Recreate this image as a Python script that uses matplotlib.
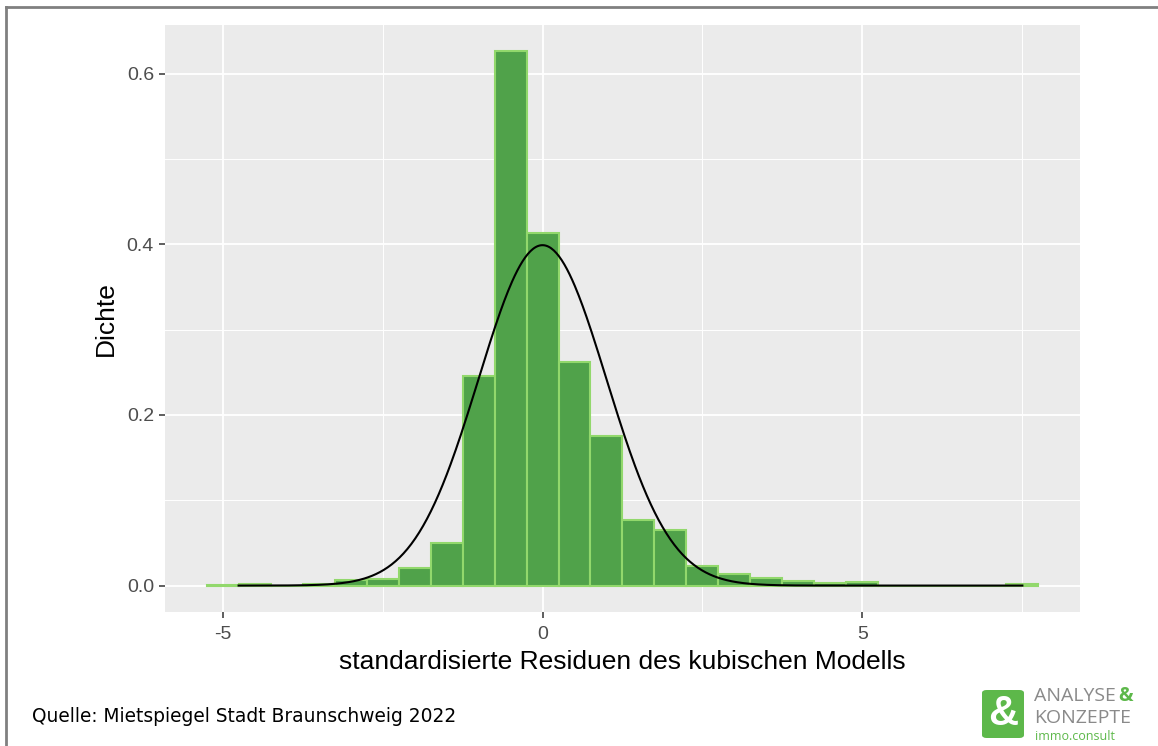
import matplotlib.pyplot as plt
import numpy as np
from matplotlib.lines import Line2D
from matplotlib.patches import FancyBboxPatch

# histogram bins (centres, width 0.5) and density heights
bin_centers = [-5.0, -4.5, -4.0, -3.5, -3.0, -2.5, -2.0, -1.5, -1.0, -0.5,
               0.0, 0.5, 1.0, 1.5, 2.0, 2.5, 3.0, 3.5, 4.0, 4.5,
               5.0, 5.5, 6.0, 6.5, 7.0, 7.5]
density = [0.001, 0.002, 0.0, 0.002, 0.007, 0.008, 0.021, 0.050, 0.246, 0.626,
           0.413, 0.262, 0.175, 0.077, 0.065, 0.023, 0.014, 0.009, 0.005, 0.0035,
           0.0043, 0.0, 0.0, 0.0, 0.0, 0.002]
bin_width = 0.5
curve_range = (-4.75, 7.5)

x_ticks = [-5, 0, 5]
x_labels = ["-5", "0", "5"]
y_ticks = [0.0, 0.2, 0.4, 0.6]
y_labels = ["0.0", "0.2", "0.4", "0.6"]

fig = plt.figure(figsize=(11.58, 7.46), dpi=100)
ax = fig.add_axes([0.1425, 0.1796, 0.7901, 0.7869])
ax.set_facecolor("#EBEBEB")

ax.bar(bin_centers, density, width=bin_width, color="#50A24A",
       edgecolor="#92D86C", linewidth=1.5, zorder=2)

xs = np.linspace(curve_range[0], curve_range[1], 600)
ax.plot(xs, np.exp(-xs ** 2 / 2) / np.sqrt(2 * np.pi), color="black", lw=1.5, zorder=3)

ax.set_xlim(-5.9, 8.4)
ax.set_ylim(-0.031, 0.657)
ax.set_xticks(x_ticks)
ax.set_xticklabels(x_labels)
ax.set_yticks(y_ticks)
ax.set_yticklabels(y_labels)
ax.set_xticks([-2.5, 2.5, 7.5], minor=True)
ax.set_yticks([0.1, 0.3, 0.5], minor=True)
ax.grid(True, which="major", color="white", lw=1.3, zorder=0)
ax.grid(True, which="minor", color="white", lw=0.7, zorder=0)
ax.set_axisbelow(True)
for s in ax.spines.values():
    s.set_visible(False)
ax.tick_params(which="major", length=4, width=1.1, color="#333333",
               labelcolor="#4D4D4D", labelsize=14, pad=4)
ax.tick_params(axis="x", which="major", pad=6)
ax.tick_params(which="minor", length=0)
for lab in ax.get_xticklabels() + ax.get_yticklabels():
    lab.set_family("Liberation Sans")

ax.set_xlabel("standardisierte Residuen des kubischen Modells",
              family="Liberation Sans", fontsize=19, labelpad=5)
ax.set_ylabel("Dichte", family="Liberation Sans", fontsize=19, labelpad=6)

fig.text(0.028, 0.04, "Quelle: Mietspiegel Stadt Braunschweig 2022",
         family="DejaVu Sans", fontsize=13.4, va="center", ha="left")

# frame lines (top and left)
fig.add_artist(Line2D([0.0052, 0.0052], [0.0, 0.9906], transform=fig.transFigure,
                      color="#808080", lw=2))
fig.add_artist(Line2D([0.0052, 1.0], [0.9906, 0.9906], transform=fig.transFigure,
                      color="#808080", lw=2))

# logo
green = "#5DB84A"
fig.add_artist(FancyBboxPatch((982 / 1158, 1 - 738 / 746), 42 / 1158, 48 / 746,
                              boxstyle="round,pad=0,rounding_size=0.004",
                              transform=fig.transFigure, facecolor=green,
                              edgecolor="none"))
fig.text(1003 / 1158, 1 - 714 / 746, "&", color="white", fontsize=30,
         fontweight="bold", family="Liberation Sans", ha="center", va="center")
fig.text(1034 / 1158, 1 - 696 / 746, "ANALYSE", color="#8A8A8A", fontsize=14,
         family="Open Sans", ha="left", va="center")
fig.text(1118 / 1158, 1 - 696 / 746, "&", color=green, fontsize=14,
         family="Open Sans", fontweight="bold", ha="left", va="center")
fig.text(1034 / 1158, 1 - 718 / 746, "KONZEPTE", color="#8A8A8A", fontsize=14,
         family="Open Sans", ha="left", va="center")
fig.text(1035 / 1158, 1 - 736 / 746, "immo.consult", color=green, fontsize=9,
         family="Open Sans", ha="left", va="center")

fig.savefig("out.png", dpi=100)
